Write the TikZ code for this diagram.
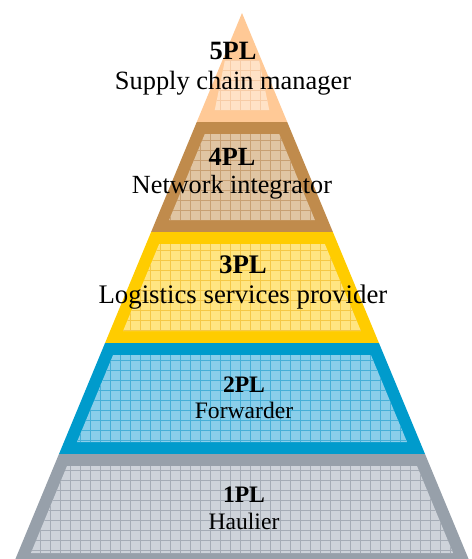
\documentclass[tikz,border=0pt]{standalone}
\usepackage{fontspec}
\setmainfont{Liberation Serif}
\usepackage{xcolor}
\usetikzlibrary{positioning,calc}

\definecolor{peachouter}{RGB}{255,201,150}
\definecolor{peachinner}{RGB}{255,226,198}
\definecolor{peachgrid}{RGB}{247,204,166}
\definecolor{brownouter}{RGB}{192,139,76}
\definecolor{browninner}{RGB}{224,197,163}
\definecolor{browngrid}{RGB}{200,160,115}
\definecolor{goldouter}{RGB}{255,204,0}
\definecolor{goldinner}{RGB}{255,229,130}
\definecolor{goldgrid}{RGB}{245,200,70}
\definecolor{skyouter}{RGB}{0,155,204}
\definecolor{skyinner}{RGB}{138,206,234}
\definecolor{skygrid}{RGB}{70,175,215}
\definecolor{slateouter}{RGB}{151,160,170}
\definecolor{slateinner}{RGB}{206,211,218}
\definecolor{slategrid}{RGB}{165,172,182}

\begin{document}
\begin{tikzpicture}[x=0.5pt, y=-0.5pt,
    tiername/.style={anchor=base, font=\bfseries\fontsize{#1}{#1}\selectfont},
    tierrole/.style={anchor=base, font=\fontsize{#1}{#1}\selectfont}]
    \useasboundingbox (0,0) rectangle (472,559);
    \clip (0,0) rectangle (472,559);
    % pyramid layers, top to bottom
    \foreach \ya/\yb/\tone in {13/122/peach, 122/232/brown, 232/343/gold, 343/454/sky, 454/565/slate} {
        \pgfmathsetmacro\wa{0.415*(\ya-13)}
        \pgfmathsetmacro\wb{0.415*(\yb-13)}
        \pgfmathsetmacro\yc{max(\ya+12,60)}
        \pgfmathsetmacro\wc{max(0.415*(\yc-13)-13,17)}
        \pgfmathsetmacro\yd{\yb-12}
        \pgfmathsetmacro\wd{0.415*(\yd-13)-13}
        \fill[fill=\tone outer] (242-\wa,\ya) -- (242+\wa,\ya) -- (242+\wb,\yb) -- (242-\wb,\yb) -- cycle;
        \begin{scope}
            \clip (242-\wc,\yc) -- (242+\wc,\yc) -- (242+\wd,\yd) -- (242-\wd,\yd) -- cycle;
            \fill[fill=\tone inner] (0,0) rectangle (472,565);
            \draw[draw=\tone grid, line width=0.4pt, step=5pt] (0,0) grid (472,565);
        \end{scope}
    }
    \foreach \n/\x/\ya/\yb/\s/\role in {5/233/59/89/13.2/Supply chain manager, 4/232/165/193/13.1/Network integrator, 3/243/273/303/13.4/Logistics services provider, 2/244/392/418/11.8/Forwarder, 1/244/502/529/11.8/Haulier} {
        \node[tiername=\s] (name\n) at (\x,\ya) {\n PL};
        \node[tierrole=\s] (role\n) at (\x,\yb) {\role};
    }
\end{tikzpicture}
\end{document}
